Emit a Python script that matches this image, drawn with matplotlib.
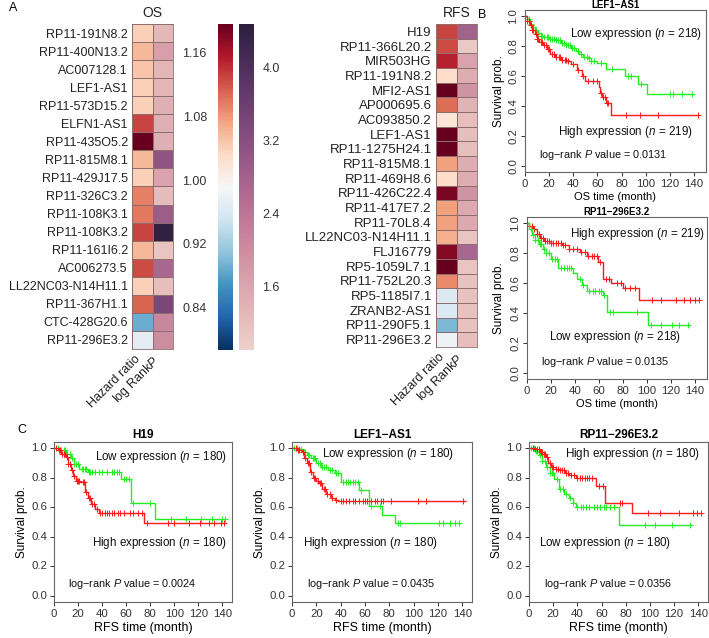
import numpy as np
import matplotlib
matplotlib.use('Agg')
import matplotlib.pyplot as plt
import seaborn as sns
from matplotlib.colors import Normalize

plt.rcParams['font.family'] = ['Liberation Sans', 'DejaVu Sans']
plt.rcParams['mathtext.fontset'] = 'custom'
plt.rcParams['mathtext.it'] = 'Liberation Sans:italic'
plt.rcParams['mathtext.rm'] = 'Liberation Sans'

W, H = 709, 638

# ---- heatmap data (panel A) ----
os_genes = ['RP11-191N8.2', 'RP11-400N13.2', 'AC007128.1', 'LEF1-AS1', 'RP11-573D15.2',
            'ELFN1-AS1', 'RP11-435O5.2', 'RP11-815M8.1', 'RP11-429J17.5', 'RP11-326C3.2',
            'RP11-108K3.1', 'RP11-108K3.2', 'RP11-161I6.2', 'AC006273.5', 'LL22NC03-N14H11.1',
            'RP11-367H1.1', 'CTC-428G20.6', 'RP11-296E3.2']
os_hr = [1.04, 1.06, 1.05, 1.04, 1.04, 1.13, 1.20, 1.06, 1.04, 1.095, 1.10, 1.13, 1.06, 1.125, 1.04, 1.11, 0.89, 0.97]
os_logp = [1.3, 1.7, 1.35, 1.35, 1.45, 1.45, 1.45, 3.1, 1.65, 1.25, 2.9, 4.4, 1.1, 2.7, 1.2, 3.4, 2.1, 2.0]

rfs_genes = ['H19', 'RP11-366L20.2', 'MIR503HG', 'RP11-191N8.2', 'MFI2-AS1', 'AP000695.6',
             'AC093850.2', 'LEF1-AS1', 'RP11-1275H24.1', 'RP11-815M8.1', 'RP11-469H8.6',
             'RP11-426C22.4', 'RP11-417E7.2', 'RP11-70L8.4', 'LL22NC03-N14H11.1', 'FLJ16779',
             'RP5-1059L7.1', 'RP11-752L20.3', 'RP5-1185I7.1', 'ZRANB2-AS1', 'RP11-290F5.1',
             'RP11-296E3.2']
rfs_hr = [1.13, 1.125, 1.15, 1.03, 1.20, 1.105, 1.02, 1.20, 1.20, 1.075, 1.03, 1.185, 1.075, 1.075,
          1.065, 1.18, 1.20, 1.09, 0.96, 0.96, 0.90, 0.98]
rfs_logp = [2.8, 1.05, 1.65, 1.5, 1.9, 1.4, 1.2, 1.2, 1.2, 1.5, 1.5, 1.9, 1.55, 1.55, 1.1, 2.7,
            1.1, 1.15, 1.15, 1.15, 1.15, 1.2]

hr_ticks = [0.84, 0.92, 1.00, 1.08, 1.16]
lp_ticks = [1.6, 2.4, 3.2, 4.0]

# ---- Kaplan-Meier data (panels B, C): step times, survival after step, last follow-up, censor times ----
b1_low_t = [0, 2, 4, 6, 8, 10, 13, 16, 20, 25, 30, 34, 38, 42, 45, 48, 52, 55, 60, 67, 83, 94, 101]
b1_low_s = [1.0, 0.98, 0.95, 0.93, 0.91, 0.89, 0.87, 0.86, 0.85, 0.84, 0.82, 0.81, 0.79, 0.77,
            0.75, 0.73, 0.72, 0.70, 0.69, 0.65, 0.60, 0.55, 0.48]
b1_low_end = 139
b1_low_c = [3, 5, 7, 9, 11, 13, 14, 16, 18, 19, 21, 22, 24, 26, 27, 29, 31, 32, 34, 36, 37, 39,
            41, 44, 46, 49, 51, 53, 55, 57, 63, 72, 85, 88, 96, 120, 123, 130, 138]
b1_high_t = [0, 2, 4, 6, 8, 10, 12, 15, 18, 21, 25, 30, 35, 38, 43, 47, 50, 61, 62, 64, 67, 71]
b1_high_s = [1.0, 0.97, 0.94, 0.91, 0.88, 0.85, 0.83, 0.81, 0.78, 0.75, 0.73, 0.71, 0.70, 0.68,
             0.64, 0.60, 0.57, 0.53, 0.49, 0.46, 0.42, 0.34]
b1_high_end = 143
b1_high_c = [2, 3, 5, 6, 7, 9, 10, 11, 13, 14, 16, 17, 19, 20, 22, 24, 26, 28, 29, 31, 33, 34, 36,
             40, 44, 48, 52, 56, 60, 63, 65, 66, 68, 69, 84, 95, 110, 143]

b2_high_t = [0, 2, 5, 8, 11, 14, 20, 29, 35, 44, 50, 59, 63, 70, 80, 93]
b2_high_s = [1.0, 0.98, 0.96, 0.93, 0.90, 0.88, 0.87, 0.855, 0.83, 0.81, 0.78, 0.74, 0.63, 0.60, 0.565, 0.49]
b2_high_end = 143
b2_high_c = [2, 4, 6, 8, 10, 12, 13, 15, 17, 18, 20, 22, 24, 26, 28, 30, 32, 35, 38, 42, 45, 48,
             51, 54, 56, 58, 61, 66, 68, 75, 78, 82, 86, 90, 104, 112, 124, 131, 136, 140, 143]
b2_low_t = [0, 2, 4, 7, 10, 13, 16, 20, 26, 38, 42, 46, 50, 63, 67, 101]
b2_low_s = [1.0, 0.96, 0.92, 0.89, 0.86, 0.83, 0.80, 0.76, 0.70, 0.67, 0.63, 0.59, 0.55, 0.52, 0.41, 0.32]
b2_low_end = 135
b2_low_c = [3, 5, 7, 9, 11, 12, 14, 16, 18, 21, 23, 25, 28, 31, 33, 35, 37, 44, 47, 52, 55, 57,
            60, 62, 64, 69, 72, 92, 103, 112, 121, 127, 134]

c1_low_t = [0, 5, 10, 14, 17, 21, 28, 56, 64, 84]
c1_low_s = [1.0, 0.985, 0.96, 0.93, 0.89, 0.86, 0.84, 0.79, 0.63, 0.52]
c1_low_end = 142
c1_low_c = [3, 6, 8, 9, 11, 13, 15, 17, 18, 20, 23, 24, 26, 27, 29, 30, 32, 34, 37, 40, 44, 48,
            50, 52, 54, 58, 60, 62, 66, 80, 97, 110, 122, 131, 140, 142]
c1_high_t = [0, 3, 6, 10, 12, 14, 16, 18, 22, 26, 28, 31, 34, 37, 75]
c1_high_s = [1.0, 0.985, 0.96, 0.94, 0.89, 0.85, 0.81, 0.78, 0.77, 0.70, 0.66, 0.62, 0.59, 0.56, 0.49]
c1_high_end = 141
c1_high_c = [2, 4, 5, 7, 8, 9, 11, 12, 13, 15, 17, 19, 20, 21, 24, 25, 27, 29, 30, 32, 33, 36, 38,
             40, 42, 44, 46, 48, 50, 53, 55, 58, 63, 66, 70, 73, 77, 95, 100, 112, 121, 129, 133, 139, 141]

c2_low_t = [0, 5, 8, 12, 16, 20, 24, 30, 35, 40, 55, 63, 74, 85]
c2_low_s = [1.0, 0.99, 0.975, 0.95, 0.93, 0.90, 0.87, 0.85, 0.83, 0.77, 0.715, 0.61, 0.55, 0.49]
c2_low_end = 138
c2_low_c = [2, 4, 6, 7, 9, 10, 11, 13, 14, 17, 18, 19, 21, 23, 25, 26, 28, 31, 33, 36, 38, 42, 44,
            46, 48, 50, 52, 54, 57, 65, 72, 87, 89, 121, 124, 130, 134, 137]
c2_high_t = [0, 4, 8, 10, 12, 15, 17, 20, 22, 25, 28, 32, 35, 38]
c2_high_s = [1.0, 0.985, 0.97, 0.93, 0.90, 0.84, 0.80, 0.78, 0.76, 0.72, 0.69, 0.66, 0.65, 0.64]
c2_high_end = 142
c2_high_c = [3, 5, 6, 9, 11, 13, 14, 16, 18, 19, 21, 23, 24, 26, 27, 29, 31, 33, 36, 40, 42, 44,
             47, 50, 52, 55, 58, 60, 62, 65, 68, 70, 73, 75, 81, 104, 110, 141]

c3_high_t = [0, 5, 9, 12, 14, 16, 18, 22, 25, 30, 33, 39, 55, 63, 85]
c3_high_s = [1.0, 0.99, 0.975, 0.96, 0.94, 0.90, 0.87, 0.86, 0.85, 0.83, 0.815, 0.80, 0.74, 0.63, 0.56]
c3_high_end = 142
c3_high_c = [3, 5, 7, 8, 10, 11, 12, 13, 15, 17, 19, 20, 22, 24, 26, 27, 29, 31, 32, 35, 37, 40,
             42, 44, 46, 48, 50, 52, 58, 61, 75, 77, 98, 108, 124, 136, 139, 142]
c3_low_t = [0, 5, 8, 11, 14, 17, 21, 25, 29, 33, 36, 39, 74]
c3_low_s = [1.0, 0.98, 0.95, 0.91, 0.87, 0.83, 0.79, 0.72, 0.69, 0.66, 0.63, 0.60, 0.48]
c3_low_end = 133
c3_low_c = [2, 4, 6, 7, 9, 11, 13, 15, 17, 19, 20, 23, 26, 28, 31, 34, 36, 40, 43, 45, 47, 50, 54,
            56, 59, 62, 64, 67, 70, 96, 104, 118, 133]

RED = '#ff1a1a'
GREEN = '#22ee22'
EDGE = '#8c6e6e'


def px_axes(fig, left, top, right, bottom):
    return fig.add_axes([left / W, 1 - bottom / H, (right - left) / W, (bottom - top) / H])


fig = plt.figure(figsize=(W / 100, H / 100), dpi=100)

hr_cmap = plt.get_cmap('RdBu_r')
hr_norm = Normalize(vmin=0.787, vmax=1.196)
lp_cmap = sns.cubehelix_palette(as_cmap=True)
lp_norm = Normalize(vmin=0.9, vmax=4.48)


def draw_heat(ax, genes, hr, logp, title, size):
    n = len(genes)
    rows = np.arange(n + 1)
    ax.pcolormesh([0, 1], rows, np.array(hr)[:, None], cmap=hr_cmap, norm=hr_norm,
                  edgecolors=EDGE, linewidth=0.6)
    ax.pcolormesh([1, 2], rows, np.array(logp)[:, None], cmap=lp_cmap, norm=lp_norm,
                  edgecolors=EDGE, linewidth=0.6)
    ax.set_xlim(0, 2)
    ax.set_ylim(n, 0)
    ax.set_yticks(np.arange(n) + 0.5)
    ax.set_yticklabels(genes, fontsize=size, color='#222222')
    ax.set_xticks([0.5, 1.5])
    ax.set_xticklabels(['Hazard ratio', r'log Rank$\mathit{P}$'], rotation=45, ha='right',
                       fontsize=9, color='#222222')
    ax.tick_params(length=0, pad=3)
    for s in ax.spines.values():
        s.set_color(EDGE)
        s.set_linewidth(0.6)
    ax.set_title(title, fontsize=10, pad=5, color='#222222')


ax_os = px_axes(fig, 132, 24, 173, 349)
draw_heat(ax_os, os_genes, os_hr, os_logp, 'OS', 9.0)
ax_rfs = px_axes(fig, 436, 24, 477, 347)
draw_heat(ax_rfs, rfs_genes, rfs_hr, rfs_logp, 'RFS', 9.5)

cax1 = px_axes(fig, 218, 24, 233, 350)
cb1 = fig.colorbar(plt.cm.ScalarMappable(norm=hr_norm, cmap=hr_cmap), cax=cax1, ticks=hr_ticks)
cb1.outline.set_visible(False)
cax1.yaxis.set_ticks_position('left')
cax1.tick_params(length=0, labelsize=9, pad=8, colors='#333333')
cax1.set_yticklabels(['%.2f' % v for v in hr_ticks])

cax2 = px_axes(fig, 239, 24, 254, 350)
cb2 = fig.colorbar(plt.cm.ScalarMappable(norm=lp_norm, cmap=lp_cmap), cax=cax2, ticks=lp_ticks)
cb2.outline.set_visible(False)
cax2.tick_params(length=0, labelsize=9, pad=6, colors='#333333')
cax2.set_yticklabels(['%.1f' % v for v in lp_ticks])


# ---- KM plots ----
def km(ax, times, surv, end, censor, color):
    t = np.append(times, end)
    s = np.append(surv, surv[-1])
    ax.step(t, s, where='post', color=color, lw=1.0)
    c = np.array(censor)
    idx = np.searchsorted(times, c, side='right') - 1
    ax.plot(c, np.array(surv)[idx], '+', color=color, ms=5, mew=0.7)


def km_axes(ax, title, xmax, xlabel, small):
    ax.set_xlim(0, xmax)
    ax.set_ylim(-0.04, 1.04)
    ax.set_xticks(np.arange(0, 141, 20))
    ax.set_yticks(np.arange(0, 1.01, 0.2))
    ax.set_yticklabels(['%.1f' % v for v in np.arange(0, 1.01, 0.2)],
                       rotation=90 if small else 0, va='center')
    ax.tick_params(direction='out', length=3, width=0.7, labelsize=8.2, pad=2,
                   colors='#333333')
    for s in ax.spines.values():
        s.set_color('#666666')
        s.set_linewidth(0.8)
    ax.set_title(title, fontsize=7 if small else 8.5, fontweight='bold', pad=1 if small else 3)
    ax.set_xlabel(xlabel, fontsize=8 if small else 9, labelpad=2)
    ax.set_ylabel('Survival prob.', fontsize=8.5)


def note(ax, x, y, txt, size):
    ax.text(x, y, txt, fontsize=size, ha='left', va='center', color='#111111')


EXP = 8.4
LR = 7.8

# B top
ax = px_axes(fig, 525, 10, 706, 172)
km(ax, b1_low_t, b1_low_s, b1_low_end, b1_low_c, GREEN)
km(ax, b1_high_t, b1_high_s, b1_high_end, b1_high_c, RED)
km_axes(ax, 'LEF1\u2212AS1', 150, 'OS time (month)', True)
ax.yaxis.set_label_coords(-20 / 181, 0.5)
note(ax, 37, 0.88, r'Low expression ($\mathit{n}$ = 218)', EXP)
note(ax, 27, 0.225, r'High expression ($\mathit{n}$ = 219)', EXP)
note(ax, 12, 0.075, r'log$-$rank $\mathit{P}$ value = 0.0131', LR)

# B bottom
ax = px_axes(fig, 527, 217, 707, 379)
km(ax, b2_high_t, b2_high_s, b2_high_end, b2_high_c, RED)
km(ax, b2_low_t, b2_low_s, b2_low_end, b2_low_c, GREEN)
km_axes(ax, 'RP11\u2212296E3.2', 150, 'OS time (month)', True)
ax.yaxis.set_label_coords(-22 / 180, 0.5)
note(ax, 36, 0.93, r'High expression ($\mathit{n}$ = 219)', EXP)
note(ax, 18, 0.24, r'Low expression ($\mathit{n}$ = 218)', EXP)
note(ax, 12, 0.075, r'log$-$rank $\mathit{P}$ value = 0.0135', LR)

# C panels
c_specs = [
    (54, 232, 'H19', [(c1_low_t, c1_low_s, c1_low_end, c1_low_c, GREEN),
                      (c1_high_t, c1_high_s, c1_high_end, c1_high_c, RED)],
     [(34, 0.94, 'Low expression ($\\mathit{n}$ = 180)'), (32, 0.36, 'High expression ($\\mathit{n}$ = 180)')],
     '0.0024'),
    (292, 472, 'LEF1\u2212AS1', [(c2_low_t, c2_low_s, c2_low_end, c2_low_c, GREEN),
                                (c2_high_t, c2_high_s, c2_high_end, c2_high_c, RED)],
     [(25, 0.96, 'Low expression ($\\mathit{n}$ = 180)'), (9, 0.36, 'High expression ($\\mathit{n}$ = 180)')],
     '0.0435'),
    (529, 708, 'RP11\u2212296E3.2', [(c3_low_t, c3_low_s, c3_low_end, c3_low_c, GREEN),
                                    (c3_high_t, c3_high_s, c3_high_end, c3_high_c, RED)],
     [(30, 0.96, 'High expression ($\\mathit{n}$ = 180)'), (8, 0.36, 'Low expression ($\\mathit{n}$ = 180)')],
     '0.0356'),
]
for left, right, title, curves, notes, pval in c_specs:
    ax = px_axes(fig, left, 442, right, 602)
    for t, s, e, c, col in curves:
        km(ax, t, s, e, c, col)
    km_axes(ax, title, 148, 'RFS time (month)', False)
    ax.yaxis.set_label_coords(-26 / (right - left), 0.5)
    for x, y, txt in notes:
        note(ax, x, y, txt, EXP)
    note(ax, 12, 0.08, r'log$-$rank $\mathit{P}$ value = ' + pval, LR)

fig.text(13 / W, 1 - 8 / H, 'A', fontsize=9, va='center', ha='center')
fig.text(482 / W, 1 - 15 / H, 'B', fontsize=9, va='center', ha='center')
fig.text(22 / W, 1 - 430 / H, 'C', fontsize=9, va='center', ha='center')

fig.savefig('out.png', dpi=100)
